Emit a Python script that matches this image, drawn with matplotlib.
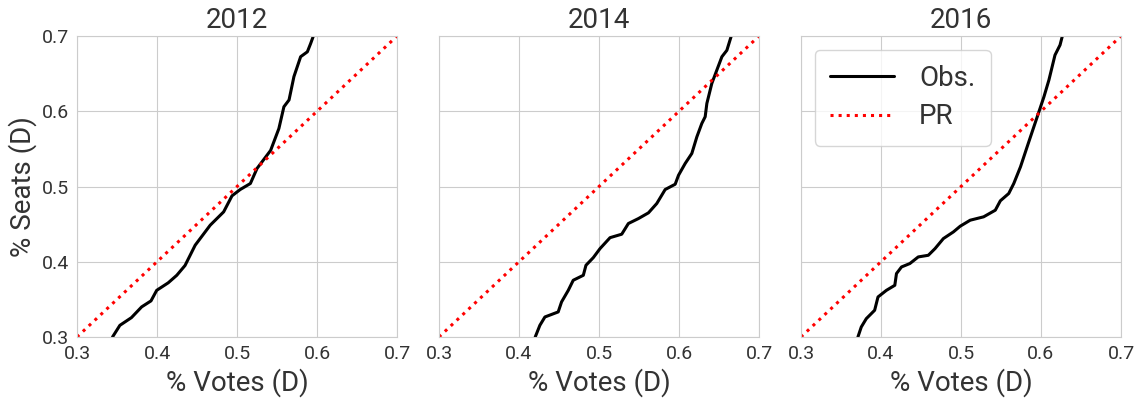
import matplotlib
matplotlib.use("Agg")
import matplotlib.pyplot as plt
import seaborn as sns

sns.set_style("whitegrid")
plt.rcParams['font.family'] = ['Roboto', 'DejaVu Sans']

years = ["2012", "2014", "2016"]

votes_2012 = [0.3444, 0.3536, 0.368, 0.3808, 0.3925, 0.3996, 0.414, 0.4247, 0.435,
              0.4477, 0.4665, 0.4833, 0.4937, 0.504, 0.5167, 0.525, 0.5314, 0.542,
              0.5523, 0.5586, 0.565, 0.5711, 0.5795, 0.5879, 0.592, 0.5954]
seats_2012 = [0.300, 0.3155, 0.3257, 0.340, 0.348, 0.362, 0.372, 0.382, 0.395,
              0.422, 0.4486, 0.4663, 0.4876, 0.496, 0.504, 0.524, 0.533, 0.548,
              0.577, 0.606, 0.615, 0.646, 0.6725, 0.679, 0.690, 0.700]

votes_2014 = [0.4203, 0.4261, 0.4324, 0.449, 0.4532, 0.4616, 0.4678, 0.4804, 0.4837,
              0.4929, 0.5013, 0.5138, 0.5284, 0.5367, 0.5493, 0.5618, 0.5722, 0.5827,
              0.5952, 0.5994, 0.6077, 0.616, 0.6223, 0.6285, 0.6327, 0.6348, 0.641,
              0.6473, 0.6536, 0.6598, 0.6653]
seats_2014 = [0.300, 0.3155, 0.3266, 0.3333, 0.3466, 0.362, 0.3754, 0.382, 0.3953,
              0.4055, 0.4175, 0.432, 0.4366, 0.4508, 0.4574, 0.465, 0.4774, 0.496,
              0.503, 0.515, 0.5306, 0.5439, 0.566, 0.5838, 0.5927, 0.6104, 0.637,
              0.6548, 0.6725, 0.681, 0.700]

votes_2016 = [0.3712, 0.3754, 0.3817, 0.3921, 0.3963, 0.4068, 0.4173, 0.4194, 0.4257,
              0.4361, 0.4466, 0.4592, 0.4676, 0.478, 0.4906, 0.499, 0.5115, 0.5283,
              0.5429, 0.5492, 0.5597, 0.566, 0.5744, 0.5827, 0.5911, 0.5974, 0.6037,
              0.6099, 0.6175, 0.6238, 0.6267]
seats_2016 = [0.300, 0.3133, 0.3244, 0.3355, 0.3532, 0.362, 0.3687, 0.3843, 0.3931,
              0.3976, 0.4064, 0.4086, 0.4175, 0.4308, 0.4397, 0.4472, 0.4552, 0.4597,
              0.4685, 0.481, 0.4907, 0.504, 0.5262, 0.5528, 0.5794, 0.5993, 0.6193,
              0.6415, 0.6747, 0.688, 0.700]

observed = [(votes_2012, seats_2012), (votes_2014, seats_2014), (votes_2016, seats_2016)]
pr_line = [0.3, 0.7]
ticks = [0.3, 0.4, 0.5, 0.6, 0.7]

text_color = '#333333'

fig = plt.figure(figsize=(11.39, 3.98), dpi=100)
lefts = [0.0676, 0.3854, 0.7032]
width = 0.281
bottom, height = 0.1533, 0.7562

axes = []
for i, (year, (v, s)) in enumerate(zip(years, observed)):
    ax = fig.add_axes([lefts[i], bottom, width, height])
    axes.append(ax)
    ax.plot(v, s, color='black', lw=2.2, label='Obs.')
    ax.plot(pr_line, pr_line, color='red', lw=2.2, ls=':', label='PR')
    ax.set_xlim(0.3, 0.7)
    ax.set_ylim(0.3, 0.7)
    ax.set_xticks(ticks)
    ax.set_yticks(ticks)
    ax.tick_params(labelsize=14, colors=text_color, pad=2)
    ax.set_title(year, fontsize=20, color=text_color, pad=6)
    ax.set_xlabel('% Votes (D)', fontsize=20, color=text_color, labelpad=4)
    for sp in ax.spines.values():
        sp.set_color('#cccccc')
    if i == 0:
        ax.set_ylabel('% Seats (D)', fontsize=20, color=text_color, labelpad=4)
    else:
        ax.set_yticklabels([])

leg = axes[2].legend(loc='upper left', fontsize=20, frameon=True, handlelength=2.3,
                     borderpad=0.55, labelspacing=0.4, handletextpad=0.9)
leg.get_frame().set_edgecolor('#cccccc')
for t in leg.get_texts():
    t.set_color(text_color)

fig.savefig('out.png', dpi=100)
